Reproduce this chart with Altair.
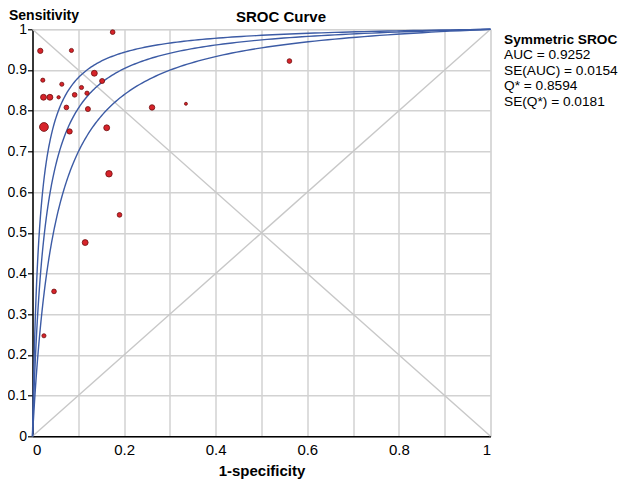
import altair as alt
import pandas as pd
import numpy as np

# --- study points: 1-specificity, sensitivity, marker area ---
fpr = [0.175, 0.017, 0.085, 0.135, 0.0225, 0.064, 0.152, 0.107, 0.119, 0.024,
       0.038, 0.057, 0.092, 0.074, 0.121, 0.261, 0.025, 0.081, 0.162, 0.335,
       0.561, 0.167, 0.190, 0.115, 0.047, 0.025]
tpr = [0.993, 0.947, 0.948, 0.892, 0.875, 0.865, 0.873, 0.857, 0.843, 0.833,
       0.833, 0.833, 0.839, 0.808, 0.804, 0.808, 0.760, 0.749, 0.758, 0.817,
       0.922, 0.645, 0.544, 0.476, 0.356, 0.247]
weight = [22, 28, 17, 35, 17, 17, 25, 17, 18, 35,
          35, 11, 22, 22, 25, 30, 78, 28, 35, 9,
          22, 42, 22, 35, 22, 17]

# --- symmetric SROC curves: Q* (from the panel text) and the two band curves ---
curve_names = ["lower", "sroc", "upper"]
curve_q = [0.8205, 0.8594, 0.8909]

# --- text panel ---
panel_title = "Symmetric SROC"
panel_lines = ["AUC = 0.9252", "SE(AUC) = 0.0154", "Q* = 0.8594", "SE(Q*) = 0.0181"]

tick_vals = [round(i * 0.1, 1) for i in range(11)]

pts = pd.DataFrame({"fpr": fpr, "tpr": tpr, "w": weight})

xgrid = np.concatenate([[0.0], np.geomspace(1e-5, 1.0, 500)])
rows = []
for name, q in zip(curve_names, curve_q):
    dor = (q / (1 - q)) ** 2
    for xv in xgrid:
        rows.append({"curve": name, "fpr": float(xv),
                     "tpr": float(dor * xv / (1 - xv + dor * xv))})
curves = pd.DataFrame(rows)

diag = pd.DataFrame({"line": ["a", "a", "b", "b"],
                     "fpr": [0, 1, 0, 1], "tpr": [0, 1, 1, 0]})

FONT = "Liberation Sans"
W, H = 458, 407

xscale = alt.Scale(domain=[0, 1], nice=False, zero=False)
yscale = alt.Scale(domain=[0, 1], nice=False, zero=False)

xaxis = alt.Axis(values=tick_vals, grid=True, ticks=False,
                 labelExpr="round(datum.value*10) % 2 == 0 ? format(datum.value, '~g') : ''",
                 labelPadding=6, labelFontSize=15, labelFont=FONT, labelColor="black",
                 title="1-specificity", titleFont=FONT, titleFontSize=15,
                 titleFontWeight="bold", titleColor="black",
                 titleX=W / 2, titleY=34.5, titleBaseline="middle", titleAlign="center",
                 domainColor="black", domainWidth=1.5,
                 gridColor="#d2d2d2", gridWidth=1.5)
yaxis = alt.Axis(values=tick_vals, grid=True, ticks=True, tickSize=5,
                 tickColor="black", tickWidth=1.2,
                 labelExpr="format(datum.value, '~g')",
                 labelPadding=1, labelFontSize=14, labelFont=FONT, labelColor="black",
                 title="Sensitivity", titleFont=FONT, titleFontSize=14,
                 titleFontWeight="bold", titleColor="black", titleAngle=0,
                 titleAlign="left", titleBaseline="alphabetic", titleX=-24, titleY=-9.8,
                 domainColor="black", domainWidth=1.5,
                 gridColor="#d2d2d2", gridWidth=1.5)

diag_layer = alt.Chart(diag).mark_line(color="#c8c8c8", strokeWidth=1.4).encode(
    x=alt.X("fpr:Q", scale=xscale, axis=xaxis),
    y=alt.Y("tpr:Q", scale=yscale, axis=yaxis),
    detail="line:N",
)

curve_layer = alt.Chart(curves).mark_line(color="#3c5ba5", strokeWidth=1.4).encode(
    x=alt.X("fpr:Q", scale=xscale),
    y=alt.Y("tpr:Q", scale=yscale),
    detail="curve:N",
    order="fpr:Q",
)

point_layer = alt.Chart(pts).mark_circle(
    fill="#d7232a", stroke="#6e0f0f", strokeWidth=0.8, opacity=1
).encode(
    x=alt.X("fpr:Q", scale=xscale),
    y=alt.Y("tpr:Q", scale=yscale),
    size=alt.Size("w:Q", scale=None, legend=None),
)

text_df = pd.DataFrame({"t": ["SROC Curve"]})
title_layer = alt.Chart(text_df).mark_text(
    font=FONT, fontSize=15, fontWeight="bold", color="black",
    align="center", baseline="middle"
).encode(text="t:N", x=alt.value(248.5), y=alt.value(-12.5))

layers = [diag_layer, curve_layer, point_layer, title_layer]

panel_y = [11, 26, 41.5, 57, 72.5]
all_lines = [panel_title] + panel_lines
for i, (line, yy) in enumerate(zip(all_lines, panel_y)):
    layers.append(
        alt.Chart(pd.DataFrame({"t": [line]})).mark_text(
            font=FONT, fontSize=13.7, fontWeight="bold" if i == 0 else "normal",
            color="black", align="left", baseline="middle"
        ).encode(text="t:N", x=alt.value(471.5), y=alt.value(yy))
    )

chart = alt.layer(*layers).properties(
    width=W, height=H,
    autosize=alt.AutoSizeParams(type="none"),
    padding={"left": 24.5, "top": 21.3, "right": 129.5, "bottom": 44},
).configure_view(stroke="black", strokeWidth=1.5).configure(background="white")

chart.save("out.html", embed_options={"renderer": "svg", "actions": False})
